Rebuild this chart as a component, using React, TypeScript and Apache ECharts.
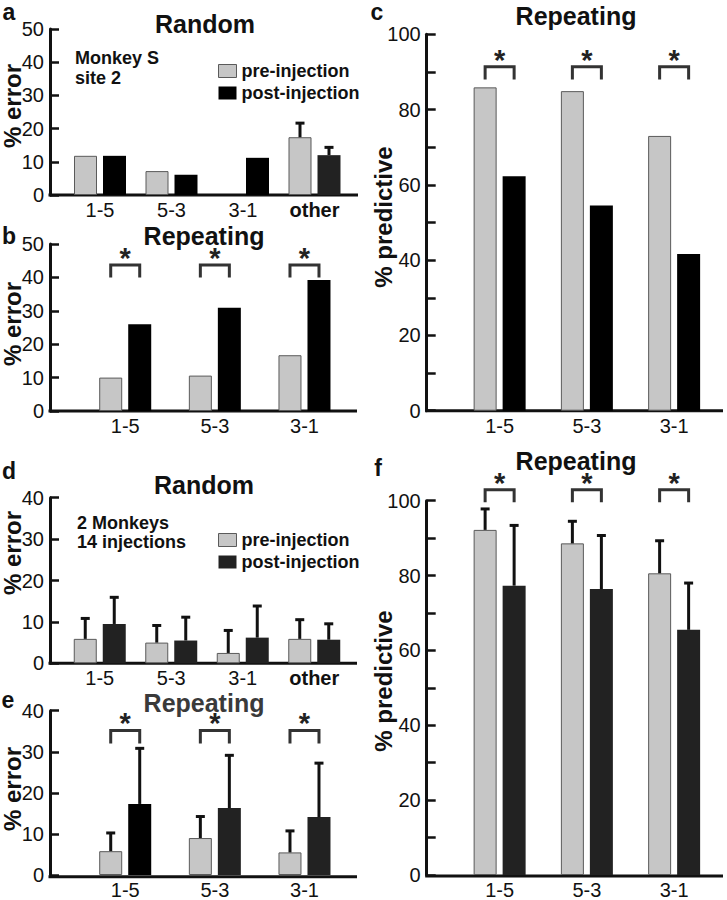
import React, { useEffect, useRef } from "react";
import * as echarts from "echarts";

const FONT = "'Liberation Sans', Arial, Helvetica, sans-serif";

// categories
const randomCats = ["1-5", "5-3", "3-1", "other"];
const repeatCats = ["1-5", "5-3", "3-1"];

// tick labels
const errTicks50 = [0, 10, 20, 30, 40, 50];
const errTicks40 = [0, 10, 20, 30, 40];
const predTicks = [0, 20, 40, 60, 80, 100];
const predTickStep = 10;

// panel a (Monkey S, site 2, Random)
const aPre = [11.8, 7.2, null, 17.4];
const aPost = [11.8, 6.1, 11.2, 12.0];
const aPreUpper = [null, null, null, 22.1];
const aPostUpper = [null, null, null, 14.8];

// panel b (Repeating % error)
const bPre = [10.0, 10.6, 16.7];
const bPost = [26.0, 30.9, 39.2];
const bBracket = [40, 43.7];

// panel c (Repeating % predictive)
const cPre = [85.9, 84.9, 73.0];
const cPost = [62.3, 54.5, 41.6];
const cBracket = [88, 91.4];

// panel d (2 monkeys, Random)
const dPre = [5.9, 5.0, 2.5, 5.9];
const dPost = [9.5, 5.5, 6.2, 5.7];
const dPreUpper = [11.2, 9.5, 8.3, 10.9];
const dPostUpper = [16.3, 11.5, 14.2, 9.9];

// panel e (Repeating % error)
const ePre = [5.8, 9.0, 5.5];
const ePost = [17.3, 16.3, 14.1];
const ePreUpper = [10.6, 14.6, 11.1];
const ePostUpper = [31.2, 29.5, 27.6];
const eBracket = [32, 35.2];

// panel f (Repeating % predictive)
const fPre = [92.2, 88.6, 80.6];
const fPost = [77.3, 76.4, 65.5];
const fPreUpper = [98.2, 94.9, 89.7];
const fPostUpper = [93.8, 91.1, 78.4];
const fBracket = [99.6, 102.9];

const BAR_W = 23;
const GAP = 6;
const OFF = (BAR_W + GAP) / 2;
const PRE_COLOR = "#c6c6c6";
const PRE_BORDER = "#5a5a5a";
const INK = "#111";

type PanelDef = {
  box: { left: number; top: number; width: number; height: number; axisX: number; axisEnd: number };
  cats: string[];
  ticks: number[];
  step: number;
  pre: (number | null)[];
  post: (number | null)[];
  preUp?: (number | null)[];
  postUp?: (number | null)[];
  bracket?: number[];
  postColor: (i: number) => string;
};

const panels: PanelDef[] = [
  {
    box: { left: 64.25, top: 29, width: 286, height: 166, axisX: 50, axisEnd: 358 },
    cats: randomCats, ticks: errTicks50, step: 10,
    pre: aPre, post: aPost, preUp: aPreUpper, postUp: aPostUpper,
    postColor: (i) => (i === 3 ? "#222" : "#000"),
  },
  {
    box: { left: 80.4, top: 244, width: 268.9, height: 167, axisX: 50, axisEnd: 357 },
    cats: repeatCats, ticks: errTicks50, step: 10,
    pre: bPre, post: bPost, bracket: bBracket,
    postColor: () => "#000",
  },
  {
    box: { left: 456, top: 34.3, width: 261.75, height: 376.4, axisX: 426.7, axisEnd: 723 },
    cats: repeatCats, ticks: predTicks, step: predTickStep,
    pre: cPre, post: cPost, bracket: cBracket,
    postColor: () => "#000",
  },
  {
    box: { left: 64, top: 497.7, width: 286, height: 165.6, axisX: 50, axisEnd: 357 },
    cats: randomCats, ticks: errTicks40, step: 10,
    pre: dPre, post: dPost, preUp: dPreUpper, postUp: dPostUpper,
    postColor: () => "#222",
  },
  {
    box: { left: 80.4, top: 710.7, width: 268.9, height: 166, axisX: 50, axisEnd: 357 },
    cats: repeatCats, ticks: errTicks40, step: 10,
    pre: ePre, post: ePost, preUp: ePreUpper, postUp: ePostUpper, bracket: eBracket,
    postColor: (i) => (i === 0 ? "#000" : "#222"),
  },
  {
    box: { left: 456, top: 500.7, width: 261.75, height: 375.3, axisX: 426.7, axisEnd: 723 },
    cats: repeatCats, ticks: predTicks, step: predTickStep,
    pre: fPre, post: fPost, preUp: fPreUpper, postUp: fPostUpper, bracket: fBracket,
    postColor: () => "#222",
  },
];

function errSeries(idx: number, means: (number | null)[], uppers: (number | null)[], side: number) {
  const data: number[][] = [];
  means.forEach((m, i) => {
    const u = uppers[i];
    if (m != null && u != null) data.push([i, m, u]);
  });
  return {
    type: "custom",
    xAxisIndex: idx,
    yAxisIndex: idx,
    silent: true,
    clip: false,
    z: 3,
    encode: { x: 0, y: [1, 2] },
    data,
    renderItem: (_p: any, api: any) => {
      const b = api.coord([api.value(0), api.value(1)]);
      const t = api.coord([api.value(0), api.value(2)]);
      const x = b[0] + side * OFF;
      const yt = t[1] + 1.5;
      return {
        type: "group",
        children: [
          { type: "line", shape: { x1: x, y1: b[1], x2: x, y2: yt }, style: { stroke: INK, lineWidth: 3 } },
          { type: "line", shape: { x1: x - 4.5, y1: yt, x2: x + 4.5, y2: yt }, style: { stroke: INK, lineWidth: 3 } },
        ],
      };
    },
  };
}

function bracketSeries(idx: number, n: number, range: number[]) {
  const data = Array.from({ length: n }, (_, i) => [i, range[0], range[1]]);
  return {
    type: "custom",
    xAxisIndex: idx,
    yAxisIndex: idx,
    silent: true,
    clip: false,
    z: 3,
    encode: { x: 0, y: [1, 2] },
    data,
    renderItem: (_p: any, api: any) => {
      const lo = api.coord([api.value(0), api.value(1)]);
      const hi = api.coord([api.value(0), api.value(2)]);
      const x1 = lo[0] - OFF;
      const x2 = lo[0] + OFF;
      return {
        type: "group",
        children: [
          {
            type: "polyline",
            shape: { points: [[x1, lo[1]], [x1, hi[1]], [x2, hi[1]], [x2, lo[1]]] },
            style: { stroke: "#333", lineWidth: 3, fill: "none" },
          },
          {
            type: "text",
            x: lo[0],
            y: hi[1] - 7,
            style: {
              text: "*", fontSize: 29, fontWeight: "bold", fontFamily: FONT, fill: "#222",
              align: "center", verticalAlign: "middle",
            },
          },
        ],
      };
    },
  };
}

function txt(text: string, x: number, y: number, size: number, opts: any = {}) {
  return {
    type: "text",
    x,
    y,
    rotation: opts.rotation || 0,
    silent: true,
    style: {
      text,
      fontSize: size,
      fontWeight: opts.weight || "bold",
      fontFamily: FONT,
      fill: opts.color || INK,
      align: opts.align || "center",
      verticalAlign: "middle",
    },
  };
}

function buildOption() {
  const grid: any[] = [];
  const xAxis: any[] = [];
  const yAxis: any[] = [];
  const series: any[] = [];
  const graphic: any[] = [];

  panels.forEach((p, i) => {
    const b = p.box;
    grid.push({ left: b.left, top: b.top, width: b.width, height: b.height, containLabel: false });
    xAxis.push({
      type: "category",
      gridIndex: i,
      data: p.cats,
      axisLine: { show: false },
      axisTick: { show: false },
      axisLabel: {
        interval: 0,
        fontSize: 20,
        color: INK,
        fontFamily: FONT,
        margin: 5,
        formatter: (v: string) => (v === "other" ? `{b|${v}}` : v),
        rich: { b: { fontSize: 20, fontWeight: "bold", fontFamily: FONT, color: INK } },
      },
    });
    const ticks = p.ticks;
    yAxis.push({
      type: "value",
      gridIndex: i,
      min: ticks[0],
      max: ticks[ticks.length - 1],
      interval: p.step,
      offset: b.left - b.axisX,
      splitLine: { show: false },
      axisLine: { show: true, lineStyle: { color: INK, width: 3 } },
      axisTick: { show: true, inside: true, length: 9, lineStyle: { color: INK, width: 2.5 } },
      axisLabel: {
        fontSize: 20,
        color: INK,
        fontFamily: FONT,
        margin: 6,
        formatter: (v: number) => (ticks.includes(v) ? String(v) : ""),
      },
    });
    series.push({
      type: "bar",
      name: "pre-injection",
      xAxisIndex: i,
      yAxisIndex: i,
      data: p.pre,
      barWidth: BAR_W,
      barGap: `${(GAP / BAR_W) * 100}%`,
      itemStyle: { color: PRE_COLOR, borderColor: PRE_BORDER, borderWidth: 1 },
    });
    series.push({
      type: "bar",
      name: "post-injection",
      xAxisIndex: i,
      yAxisIndex: i,
      data: p.post,
      barWidth: BAR_W,
      barGap: `${(GAP / BAR_W) * 100}%`,
      itemStyle: { color: (prm: any) => p.postColor(prm.dataIndex) },
    });
    if (p.preUp) series.push(errSeries(i, p.pre, p.preUp, -1));
    if (p.postUp) series.push(errSeries(i, p.post, p.postUp, 1));
    if (p.bracket) series.push(bracketSeries(i, p.cats.length, p.bracket));

    const bottom = b.top + b.height;
    graphic.push({
      type: "line",
      silent: true,
      shape: { x1: b.axisX - 1.5, y1: bottom, x2: b.axisEnd, y2: bottom },
      style: { stroke: INK, lineWidth: 3 },
    });
  });

  // panel letters
  graphic.push(txt("a", 9, 11.5, 23));
  graphic.push(txt("b", 9, 236, 23));
  graphic.push(txt("c", 377, 11.5, 23));
  graphic.push(txt("d", 9, 471, 23));
  graphic.push(txt("e", 8, 700, 23));
  graphic.push(txt("f", 378, 468, 23));

  // titles
  graphic.push(txt("Random", 205, 24, 25));
  graphic.push(txt("Repeating", 204, 236, 25));
  graphic.push(txt("Repeating", 576, 16, 25));
  graphic.push(txt("Random", 204, 485, 25));
  graphic.push(txt("Repeating", 204, 703, 25, { color: "#3a3a3a" }));
  graphic.push(txt("Repeating", 576, 461, 25));

  // annotations
  graphic.push(txt("Monkey S", 75, 58, 18, { align: "left" }));
  graphic.push(txt("site 2", 75, 78, 18, { align: "left" }));
  graphic.push(txt("2 Monkeys", 77, 523, 18, { align: "left" }));
  graphic.push(txt("14 injections", 77, 542, 18, { align: "left" }));

  // axis names
  const rot = Math.PI / 2;
  graphic.push(txt("% error", 12, 106, 24, { rotation: rot }));
  graphic.push(txt("% error", 12, 324, 24, { rotation: rot }));
  graphic.push(txt("% error", 12, 553, 24, { rotation: rot }));
  graphic.push(txt("% error", 12, 789, 24, { rotation: rot }));
  graphic.push(txt("% predictive", 383, 217, 24, { rotation: rot }));
  graphic.push(txt("% predictive", 383, 681, 24, { rotation: rot }));

  const legendBase = (top: number, postColor: string) => ({
    left: 218,
    top,
    orient: "vertical",
    icon: "rect",
    itemWidth: 18,
    itemHeight: 13,
    itemGap: 4,
    padding: 0,
    selectedMode: false,
    textStyle: { fontSize: 18, fontWeight: "bold", fontFamily: FONT, color: INK, lineHeight: 18 },
    data: [
      { name: "pre-injection", itemStyle: { color: PRE_COLOR, borderColor: PRE_BORDER, borderWidth: 1 } },
      { name: "post-injection", itemStyle: { color: postColor, borderWidth: 0 } },
    ],
  });

  return {
    animation: false,
    backgroundColor: "#ffffff",
    textStyle: { fontFamily: FONT },
    grid,
    xAxis,
    yAxis,
    legend: [legendBase(62, "#000"), legendBase(531, "#222")],
    series,
    graphic: { elements: graphic },
  };
}

export default function App() {
  const ref = useRef<HTMLDivElement>(null);
  useEffect(() => {
    if (!ref.current) return;
    const chart = echarts.init(ref.current, undefined, { renderer: "svg" });
    chart.setOption(buildOption() as any);
    return () => chart.dispose();
  }, []);
  return (
    <div
      ref={ref}
      style={{ position: "fixed", left: 0, top: 0, width: 727, height: 900, background: "#fff" }}
    />
  );
}
